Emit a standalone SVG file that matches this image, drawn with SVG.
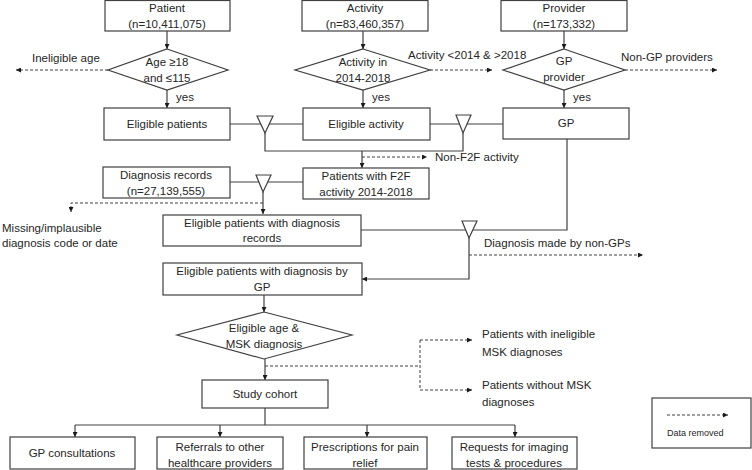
<svg xmlns="http://www.w3.org/2000/svg" width="752" height="470" viewBox="0 0 752 470">
<defs>
<style>
text{font-family:"Liberation Sans",Arial,sans-serif;font-size:11.5px;fill:#262626}
.c{text-anchor:middle}
.box{fill:#fff;stroke:#404040;stroke-width:1.2}
.ln{fill:none;stroke:#404040;stroke-width:1.2}
.ds{fill:none;stroke:#404040;stroke-width:1;stroke-dasharray:3,2}
.tri{fill:#fff;stroke:#404040;stroke-width:1.2}
</style>
<marker id="ah" viewBox="0 0 10 10" refX="10" refY="5" markerWidth="5" markerHeight="5" orient="auto" markerUnits="userSpaceOnUse"><path d="M0,0 L10,5 L0,10 z" fill="#1a1a1a"/></marker>
</defs>
<rect width="752" height="470" fill="#fff"/>

<g id="connectors">
<line class="ln" x1="167" y1="31" x2="167" y2="49" marker-end="url(#ah)"/>
<line class="ln" x1="167" y1="90" x2="167" y2="108" marker-end="url(#ah)"/>
<line class="ds" x1="108" y1="70" x2="16" y2="70" marker-end="url(#ah)"/>
<line class="ln" x1="363" y1="31" x2="363" y2="49" marker-end="url(#ah)"/>
<line class="ln" x1="363" y1="90" x2="363" y2="108" marker-end="url(#ah)"/>
<line class="ds" x1="430" y1="70" x2="492" y2="70" marker-end="url(#ah)"/>
<line class="ln" x1="564" y1="31" x2="564" y2="49" marker-end="url(#ah)"/>
<line class="ln" x1="564" y1="90" x2="564" y2="108" marker-end="url(#ah)"/>
<line class="ds" x1="625" y1="70" x2="717" y2="70" marker-end="url(#ah)"/>
<line class="ln" x1="230" y1="124" x2="303" y2="124"/>
<line class="ln" x1="430" y1="124" x2="503" y2="124"/>
<polyline class="ln" points="265,133 265,151 463,151 463,133"/>
<line class="ln" x1="362" y1="151" x2="362" y2="168" marker-end="url(#ah)"/>
<line class="ds" x1="362" y1="157" x2="427" y2="157" marker-end="url(#ah)"/>
<line class="ln" x1="230" y1="182" x2="303" y2="182"/>
<line class="ln" x1="263" y1="192" x2="263" y2="214" marker-end="url(#ah)"/>
<polyline class="ds" points="263,203 71,203 71,212" marker-end="url(#ah)"/>
<polyline class="ln" points="567,139 567,230 361,230"/>
<polyline class="ln" points="469,238 469,279 362,279" marker-end="url(#ah)"/>
<line class="ds" x1="469" y1="255" x2="643" y2="255" marker-end="url(#ah)"/>
<line class="ln" x1="264" y1="295" x2="264" y2="312" marker-end="url(#ah)"/>
<line class="ln" x1="265" y1="359" x2="265" y2="380" marker-end="url(#ah)"/>
<polyline class="ds" points="265,366 420,366"/>
<line class="ds" x1="420" y1="340" x2="420" y2="390"/>
<line class="ds" x1="420" y1="340" x2="472" y2="340" marker-end="url(#ah)"/>
<line class="ds" x1="420" y1="390" x2="472" y2="390" marker-end="url(#ah)"/>
<line class="ln" x1="265" y1="408" x2="265" y2="425"/>
<line class="ln" x1="75" y1="425" x2="515" y2="425"/>
<line class="ln" x1="75" y1="425" x2="75" y2="437" marker-end="url(#ah)"/>
<line class="ln" x1="220" y1="425" x2="220" y2="437" marker-end="url(#ah)"/>
<line class="ln" x1="367" y1="425" x2="367" y2="437" marker-end="url(#ah)"/>
<line class="ln" x1="515" y1="425" x2="515" y2="437" marker-end="url(#ah)"/>
<polygon class="tri" points="257,116 273,116 265,133"/>
<polygon class="tri" points="456,115 471,115 463,133"/>
<polygon class="tri" points="256,175 271,175 263,192"/>
<polygon class="tri" points="462,221 477,221 469,238"/>
<text x="32" y="62">Ineligible age</text>
<text x="176" y="101">yes</text>
<text x="408" y="59">Activity &lt;2014 &amp; &gt;2018</text>
<text x="372" y="101">yes</text>
<text x="621" y="61">Non-GP providers</text>
<text x="573" y="101">yes</text>
<text x="435" y="161">Non-F2F activity</text>
<text x="2" y="232">Missing/implausible</text>
<text x="2" y="247">diagnosis code or date</text>
<text x="484" y="247">Diagnosis made by non-GPs</text>
<text x="482" y="338">Patients with ineligible</text>
<text x="482" y="356">MSK diagnoses</text>
<text x="482" y="389">Patients without MSK</text>
<text x="482" y="406">diagnoses</text>
</g>

<g id="patient"><rect class="box" x="105" y="0.5" width="125" height="30.5"/><text class="c" x="167" y="12">Patient</text><text class="c" x="167" y="28">(n=10,411,075)</text></g>
<g id="age-check"><polygon class="box" points="167,49 228,70 167,90 108,70"/><text class="c" x="167" y="66">Age ≥18</text><text class="c" x="167" y="82">and ≤115</text></g>
<g id="eligible-patients"><rect class="box" x="104" y="108" width="126" height="32"/><text class="c" x="167" y="128">Eligible patients</text></g>

<g id="activity"><rect class="box" x="302" y="0.5" width="126" height="30.5"/><text class="c" x="365" y="12">Activity</text><text class="c" x="365" y="28">(n=83,460,357)</text></g>
<g id="activity-check"><polygon class="box" points="363,49 430,70 363,90 295,70"/><text class="c" x="363" y="66">Activity in</text><text class="c" x="363" y="82">2014-2018</text></g>
<g id="eligible-activity"><rect class="box" x="303" y="108" width="127" height="32"/><text class="c" x="366" y="128">Eligible activity</text></g>

<g id="provider"><rect class="box" x="501" y="0.5" width="126" height="30.5"/><text class="c" x="564" y="12">Provider</text><text class="c" x="564" y="28">(n=173,332)</text></g>
<g id="gp-check"><polygon class="box" points="564,49 625,70 564,90 503,70"/><text class="c" x="564" y="65">GP</text><text class="c" x="564" y="81">provider</text></g>
<g id="gp"><rect class="box" x="503" y="108" width="126" height="31"/><text class="c" x="566" y="127">GP</text></g>

<g id="diagnosis-records"><rect class="box" x="103" y="167" width="127" height="31"/><text class="c" x="166" y="179">Diagnosis records</text><text class="c" x="166" y="195">(n=27,139,555)</text></g>
<g id="f2f"><rect class="box" x="303" y="168" width="126" height="31"/><text class="c" x="366" y="180">Patients with F2F</text><text class="c" x="366" y="196">activity 2014-2018</text></g>
<g id="patients-diag-records"><rect class="box" x="163" y="215" width="198" height="31"/><text class="c" x="262" y="227">Eligible patients with diagnosis</text><text class="c" x="262" y="242">records</text></g>
<g id="patients-diag-gp"><rect class="box" x="163" y="263" width="199" height="32"/><text class="c" x="262" y="275">Eligible patients with diagnosis by</text><text class="c" x="262" y="291">GP</text></g>
<g id="msk-check"><polygon class="box" points="264,312 352,335 264,359 177,335"/><text class="c" x="264" y="332">Eligible age &amp;</text><text class="c" x="264" y="348">MSK diagnosis</text></g>
<g id="study-cohort"><rect class="box" x="202" y="380" width="126" height="28"/><text class="c" x="265" y="398">Study cohort</text></g>

<g id="gp-consultations"><rect class="box" x="10" y="437" width="125" height="32"/><text class="c" x="72" y="457">GP consultations</text></g>
<g id="referrals"><rect class="box" x="157" y="437" width="126" height="32"/><text class="c" x="220" y="451">Referrals to other</text><text class="c" x="220" y="467">healthcare providers</text></g>
<g id="prescriptions"><rect class="box" x="304" y="437" width="123" height="32"/><text class="c" x="365" y="451">Prescriptions for pain</text><text class="c" x="365" y="467">relief</text></g>
<g id="imaging"><rect class="box" x="452" y="437" width="125" height="32"/><text class="c" x="514" y="451">Requests for imaging</text><text class="c" x="514" y="467">tests &amp; procedures</text></g>

<g id="legend"><rect class="box" x="652" y="398" width="99" height="50"/><line class="ds" x1="667" y1="415" x2="728" y2="415" marker-end="url(#ah)"/><text x="667" y="436" style="font-size:9px">Data removed</text></g>
</svg>
